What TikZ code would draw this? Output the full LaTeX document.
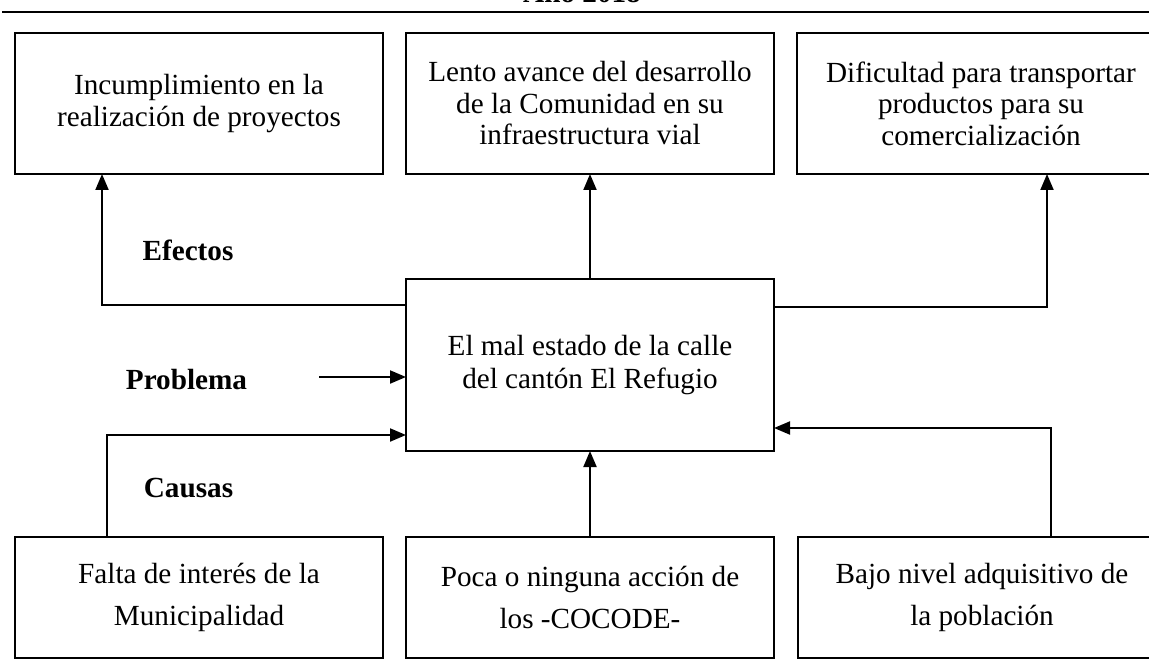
\documentclass[tikz,border=0pt]{standalone}
\usepackage{fontspec}
\setmainfont{Liberation Serif}
\usetikzlibrary{positioning,arrows.meta}

\tikzset{
  caja/.style={draw, line width=0.8pt, outer sep=0pt, inner sep=0pt,
    minimum width=184pt, align=center},
  efecto/.style={caja, minimum height=70.5pt, font=\fontsize{14.6}{15.75}\selectfont},
  problema/.style={caja, minimum height=86pt, font=\fontsize{14.6}{16.5}\selectfont},
  causa/.style={caja, minimum height=60.5pt, font=\fontsize{14.6}{21}\selectfont},
  rotulo/.style={anchor=base, inner sep=0pt, font=\fontsize{14.6}{16.5}\selectfont\bfseries},
  flecha/.style={line width=1pt, -{Triangle[length=8pt,width=6.5pt]}}
}

\begin{document}
\begin{tikzpicture}[x=0.5pt, y=-0.5pt, node distance=11.5pt]
  \useasboundingbox (0,0) rectangle (1149,668);
  \node[rotulo] (anio) at (582,3) {Año 2018};
  \draw[line width=1.2pt] (2,12) -- (1149,12);

  \node[problema] (prob) at (590,365) {El mal estado de la calle\\del cantón El Refugio};
  \node[efecto] (e2) [above=52.5pt of prob] {Lento avance del desarrollo\\de la Comunidad en su\\infraestructura vial};
  \node[efecto] (e1) [left=of e2] {Incumplimiento en la\\realización de proyectos};
  \node[efecto] (e3) [right=of e2] {Dificultad para transportar\\productos para su\\comercialización};
  \node[causa] (c2) [below=43pt of prob] {Poca o ninguna acción de\\los -COCODE-};
  \node[causa] (c1) [left=of c2] {Falta de interés de la\\Municipalidad};
  \node[causa] (c3) [right=12pt of c2] {Bajo nivel adquisitivo de\\la población};

  \node[rotulo] (efectos) at (188,260) {Efectos};
  \node[rotulo] (problem) at (186.5,389) {Problema};
  \node[rotulo] (causas) at (188.5,497) {Causas};

  % puntos de quiebre
  \coordinate (ef1) at (102,305);
  \coordinate (ef3) at (1047,307);
  \coordinate (pb) at (319,377);
  \coordinate (ca1) at (107,435);
  \coordinate (ca3) at (1051,428);

  \draw[flecha] (prob.west |- ef1) -| (ef1 |- e1.south);
  \draw[flecha] (prob.north) -- (e2.south);
  \draw[flecha] (prob.east |- ef3) -| (ef3 |- e3.south);
  \draw[flecha] (pb) -- (prob.west |- pb);
  \draw[flecha] (ca1 |- c1.north) |- (prob.west |- ca1);
  \draw[flecha] (c2.north) -- (prob.south);
  \draw[flecha] (ca3 |- c3.north) |- (prob.east |- ca3);
\end{tikzpicture}
\end{document}
